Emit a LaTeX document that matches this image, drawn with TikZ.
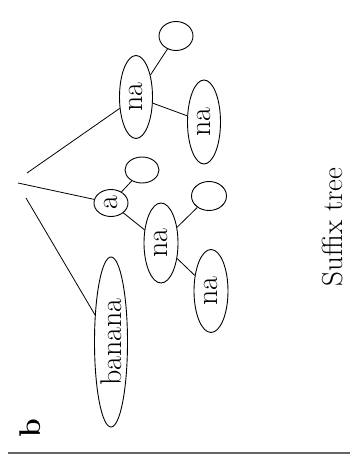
\documentclass[tikz,border=0pt]{standalone}
\usepackage{tikz}
\usetikzlibrary{shapes,positioning}
\colorlet{colorEDGE}{black}
\colorlet{colorRULE}{darkgray!80}
\tikzset{
   every path/.style={line width=0.8pt},
   edge/.style={draw=colorEDGE, line width=0.8pt},
   lbl/.style={draw, ellipse, rotate=90, inner sep=0pt, line width=0.9pt,
               font=\fontsize{30}{36}\selectfont},
}

\begin{document}
\begin{tikzpicture}[x=1pt, y=-1pt]
\useasboundingbox (0,0) rectangle (350,461);

% ------------------------------------------------------------
% root (no node, only the ends of the edges)
% ------------------------------------------------------------
\coordinate (r1) at (27,173);
\coordinate (r2) at (18,183);
\coordinate (r3) at (26,198);

% ------------------------------------------------------------
% nodes
% ------------------------------------------------------------
\node[lbl, minimum width=83, minimum height=33] (na1) at (136,97) {na};
\node[lbl, minimum width=29, minimum height=34] (e1)  at (176,36) {};
\node[lbl, minimum width=84, minimum height=33] (na2) at (204,122) {na};

\node[lbl, minimum width=27, minimum height=34] (a)   at (111,203) {a};
\node[lbl, minimum width=26, minimum height=34] (e2)  at (142,170) {};
\node[lbl, minimum width=80, minimum height=34] (na3) at (161,243) {na};
\node[lbl, minimum width=29, minimum height=35] (e3)  at (209,196) {};
\node[lbl, minimum width=83, minimum height=34] (na4) at (211,291) {na};

\node[lbl, minimum width=170, minimum height=33] (bnn) at (111,342) {banana};

% ------------------------------------------------------------
% edges
% ------------------------------------------------------------
\draw[edge] (r1) -- (na1);
\draw[edge] (r2) -- (a);
\draw[edge] (r3) -- (bnn);

\draw[edge] (na1) -- (e1);
\draw[edge] (na1) -- (na2);
\draw[edge] (a) -- (e2);
\draw[edge] (a) -- (na3);
\draw[edge] (na3) -- (e3);
\draw[edge] (na3) -- (na4);

% ------------------------------------------------------------
% caption, panel letter and rule
% ------------------------------------------------------------
\node[rotate=90, inner sep=0pt, font=\fontsize{29}{34}\selectfont] (cap) at (333,227) {Suffix tree};
\node[rotate=90, inner sep=0pt, font=\fontsize{30}{34}\selectfont\bfseries] (pb) at (30,428) {b};

\coordinate (rl) at (8,453);
\coordinate (rr) at (350,453);
\draw[colorRULE, line width=2pt] (rl) -- (rr);
\end{tikzpicture}
\end{document}
